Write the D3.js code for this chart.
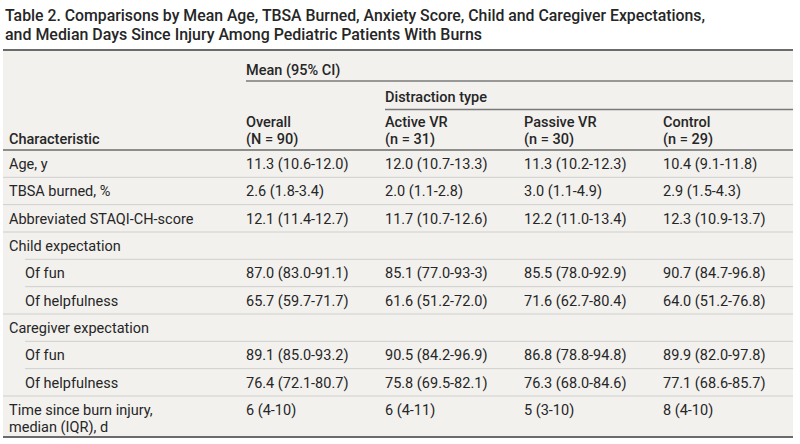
<!DOCTYPE html>
<html lang="en">
  <head>
    <meta charset="UTF-8" />
    <title>Table 2</title>
    <script src="https://d3js.org/d3.v7.min.js"></script>
    <style>
      body { margin: 0; background: #fff; }
      text { font-family: Roboto, 'Noto Sans', sans-serif; fill: #262626; }
    </style>
  </head>
  <body>
    <div id="my_table"></div>
    <script>
      // table content
      const titleLines = [
        'Table 2. Comparisons by Mean Age, TBSA Burned, Anxiety Score, Child and Caregiver Expectations,',
        'and Median Days Since Injury Among Pediatric Patients With Burns'
      ]
      const rowLabels = [
        ['Age, y'],
        ['TBSA burned, %'],
        ['Abbreviated STAQI-CH-score'],
        ['Child expectation'],
        ['Of fun'],
        ['Of helpfulness'],
        ['Caregiver expectation'],
        ['Of fun'],
        ['Of helpfulness'],
        ['Time since burn injury,', 'median (IQR), d']
      ]
      const subRow = [0, 0, 0, 0, 1, 1, 0, 1, 1, 0]
      const columnNames = ['Overall', 'Active VR', 'Passive VR', 'Control']
      const columnCounts = ['(N = 90)', '(n = 31)', '(n = 30)', '(n = 29)']
      const overall = ['11.3 (10.6-12.0)', '2.6 (1.8-3.4)', '12.1 (11.4-12.7)', '', '87.0 (83.0-91.1)', '65.7 (59.7-71.7)', '', '89.1 (85.0-93.2)', '76.4 (72.1-80.7)', '6 (4-10)']
      const activeVR = ['12.0 (10.7-13.3)', '2.0 (1.1-2.8)', '11.7 (10.7-12.6)', '', '85.1 (77.0-93-3)', '61.6 (51.2-72.0)', '', '90.5 (84.2-96.9)', '75.8 (69.5-82.1)', '6 (4-11)']
      const passiveVR = ['11.3 (10.2-12.3)', '3.0 (1.1-4.9)', '12.2 (11.0-13.4)', '', '85.5 (78.0-92.9)', '71.6 (62.7-80.4)', '', '86.8 (78.8-94.8)', '76.3 (68.0-84.6)', '5 (3-10)']
      const control = ['10.4 (9.1-11.8)', '2.9 (1.5-4.3)', '12.3 (10.9-13.7)', '', '90.7 (84.7-96.8)', '64.0 (51.2-76.8)', '', '89.9 (82.0-97.8)', '77.1 (68.6-85.7)', '8 (4-10)']
      const columns = [overall, activeVR, passiveVR, control]

      const width = 800,
        height = 444
      const tLeft = 3,
        tRight = 793,
        tTop = 50,
        headBottom = 150,
        tBottom = 437

      const svg = d3
        .select('#my_table')
        .append('svg')
        .attr('width', width)
        .attr('height', height)

      // title
      svg
        .selectAll('.title')
        .data(titleLines)
        .join('text')
        .attr('class', 'title')
        .attr('x', 5)
        .attr('y', (d, i) => 20.5 + i * 19.5)
        .attr('font-size', 17)
        .attr('font-weight', 500)
        .attr('textLength', (d, i) => (i === 0 ? 700 : 477))
        .attr('lengthAdjust', 'spacingAndGlyphs')
        .text(d => d)

      // table background
      svg
        .append('rect')
        .attr('x', tLeft)
        .attr('y', tTop)
        .attr('width', tRight - tLeft)
        .attr('height', tBottom - tTop)
        .attr('fill', '#f2f1ee')

      // scales
      const x = d3.scaleBand().domain(columnNames).range([246, 802])
      const nRows = rowLabels.length
      const y = d3
        .scaleBand()
        .domain(d3.range(nRows - 1))
        .range([headBottom, 396])
      const rowTop = i => (i < nRows - 1 ? y(i) : 396)
      const rowBottom = i => (i < nRows - 1 ? y(i) + y.bandwidth() : tBottom)

      // header
      const head = svg.append('g').attr('font-size', 14.5).attr('font-weight', 500)
      head.append('text').attr('x', x('Overall')).attr('y', 75).text('Mean (95% CI)')
      head.append('text').attr('x', x('Active VR')).attr('y', 102).text('Distraction type')
      head.append('text').attr('x', 9).attr('y', 144).text('Characteristic')
      head
        .selectAll('.colname')
        .data(columnNames)
        .join('text')
        .attr('x', d => x(d))
        .attr('y', 127)
        .text(d => d)
      head
        .selectAll('.colcount')
        .data(columnCounts)
        .join('text')
        .attr('x', (d, i) => x(columnNames[i]))
        .attr('y', 144)
        .text(d => d)

      // header rules
      const rule = (x1, x2, yy, w, c) =>
        svg
          .append('line')
          .attr('x1', x1)
          .attr('x2', x2)
          .attr('y1', yy)
          .attr('y2', yy)
          .attr('stroke', c)
          .attr('stroke-width', w)
      rule(tLeft, tRight, tTop, 2, '#6b6b6b')
      rule(x('Overall'), tRight, 81, 1.5, '#7a7a7a')
      rule(x('Active VR'), tRight, 109.5, 1.5, '#7a7a7a')
      rule(tLeft, tRight, headBottom, 1.5, '#6b6b6b')

      // row separators
      svg
        .selectAll('.sep')
        .data(d3.range(nRows - 1))
        .join('line')
        .attr('class', 'sep')
        .attr('x1', i => (subRow[i + 1] ? 25 : tLeft))
        .attr('x2', tRight)
        .attr('y1', i => rowBottom(i))
        .attr('y2', i => rowBottom(i))
        .attr('stroke', '#cfcfcc')
        .attr('stroke-width', 1)
      rule(tLeft, tRight, tBottom, 2, '#6b6b6b')

      // body
      const body = svg.append('g').attr('font-size', 14.5)
      const rows = body
        .selectAll('.row')
        .data(rowLabels)
        .join('g')
        .attr('class', 'row')
        .attr('transform', (d, i) => `translate(0, ${rowTop(i) + 19})`)
      rows
        .selectAll('.label')
        .data((d, i) => d.map(t => ({ t, sub: subRow[i] })))
        .join('text')
        .attr('x', d => (d.sub ? 25 : 9))
        .attr('y', (d, j) => j * 17)
        .text(d => d.t)
      rows
        .selectAll('.val')
        .data((d, i) => columns.map((c, k) => ({ v: c[i], col: columnNames[k] })))
        .join('text')
        .attr('x', d => x(d.col))
        .attr('y', 0)
        .text(d => d.v)
    </script>
  </body>
</html>
